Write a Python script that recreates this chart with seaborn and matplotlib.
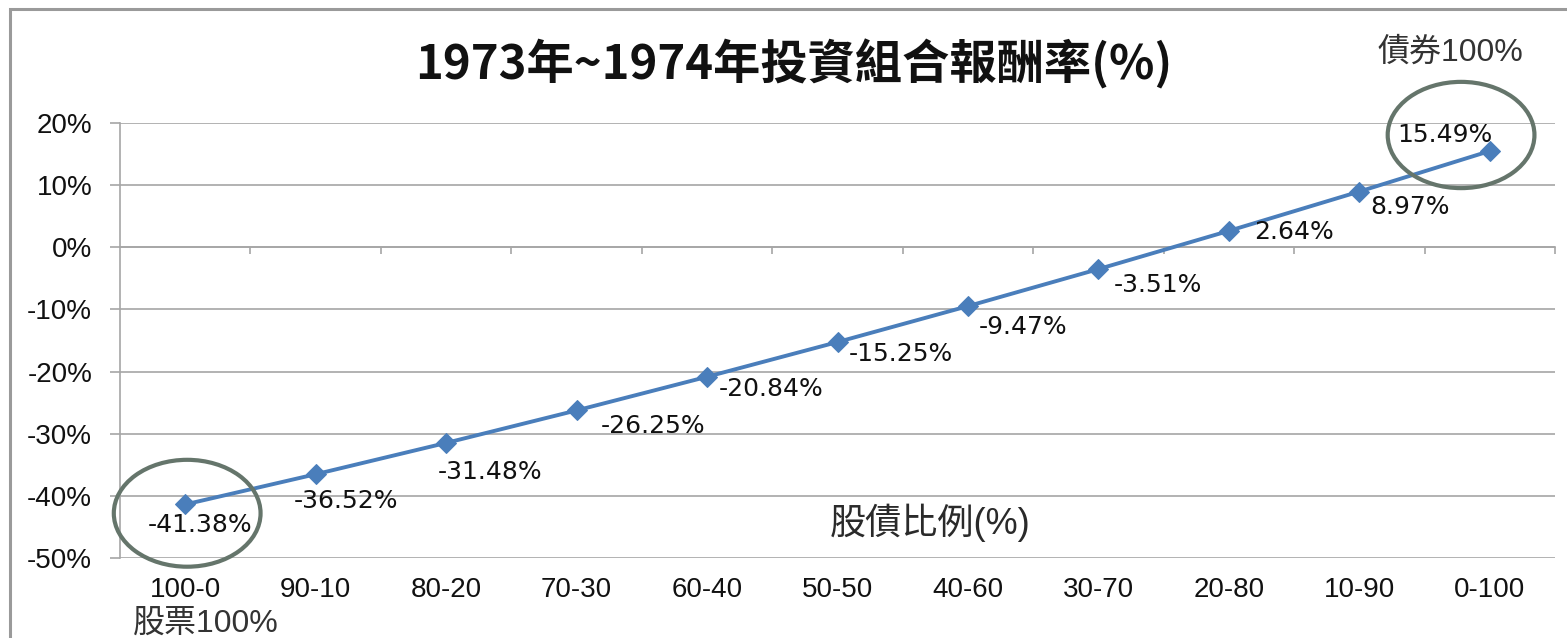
import numpy as np
import pandas as pd
import matplotlib
matplotlib.use('Agg')
import matplotlib.pyplot as plt
from matplotlib.patches import Ellipse, Rectangle
import seaborn as sns

# stock-bond mix and 1973-74 portfolio return (%)
mix = ['100-0', '90-10', '80-20', '70-30', '60-40', '50-50',
       '40-60', '30-70', '20-80', '10-90', '0-100']
returns = [-41.38, -36.52, -31.48, -26.25, -20.84, -15.25,
           -9.47, -3.51, 2.64, 8.97, 15.49]
yticks = [-50, -40, -30, -20, -10, 0, 10, 20]

# label offsets in pixels (left edge, vertical centre) relative to marker
lab_dx = [-37, -22, -8, 24, 12, 11, 11, 15, 25, 11, -93]
lab_dy = [-21, -27, -29, -16, -12, -12, -21, -16, -1, -15, 16]

df = pd.DataFrame({'mix': mix, 'ret': returns})

sns.set_theme(style='white')
plt.rcParams['font.family'] = ['Liberation Sans', 'Noto Sans CJK TC']

W, H = 1567, 638
fig = plt.figure(figsize=(W / 100, H / 100), dpi=100)
ax = fig.add_axes([120 / W, 1 - 558 / H, (1555 - 120) / W, (558 - 123) / H])

grid = '#A6A6A6'
blue = '#4A7EBB'

sns.lineplot(data=df, x='mix', y='ret', sort=False, ax=ax, color=blue,
             linewidth=2.8, marker='D', markersize=10.5,
             markeredgecolor=blue, zorder=5)

ax.set_xlim(-0.5, len(mix) - 0.5)
ax.set_ylim(-50, 20)
ax.set_yticks(yticks)
ax.set_yticklabels([f'{v}%' for v in yticks], fontsize=20, color='#111111')
ax.set_xticks(range(len(mix)))
ax.set_xticklabels(mix, fontsize=20, color='#111111')
ax.tick_params(axis='x', length=0, pad=14)
ax.tick_params(axis='y', length=7, width=1.2, color=grid, pad=13,
               direction='out', left=True)
ax.yaxis.grid(True, color=grid, linewidth=1.2)
ax.set_axisbelow(True)
ax.set_xlabel('')
ax.set_ylabel('')
for s in ['top', 'right', 'bottom']:
    ax.spines[s].set_visible(False)
ax.spines['left'].set_color(grid)
ax.spines['left'].set_linewidth(1.2)

# category axis crossing at 0%
sec = ax.secondary_xaxis(50 / 70)
sec.set_alignment('bottom')
sec.set_xticks(np.arange(0.5, len(mix), 1))
sec.tick_params(length=5, width=1.2, color=grid, labelbottom=False,
                direction='out')
sec.spines['bottom'].set_color(grid)
sec.spines['bottom'].set_linewidth(1.2)

for i, v in enumerate(returns):
    ax.annotate(f'{v:.2f}%', (i, v), xytext=(lab_dx[i], lab_dy[i]),
                textcoords='offset pixels', ha='left', va='center',
                fontsize=18, family=['DejaVu Sans'], color='#111111',
                zorder=6)

ring = '#65756B'
ax.add_patch(Ellipse((0.015, -42.8), 1.125, 17.2, fill=False,
                     edgecolor=ring, linewidth=3, clip_on=False, zorder=7))
ax.add_patch(Ellipse((9.78, 18.07), 1.125, 17.1, fill=False,
                     edgecolor=ring, linewidth=3, clip_on=False, zorder=7))

fig.text(794 / W, 1 - 64 / H, '1973年~1974年投資組合報酬率(%)', ha='center',
         va='center', fontsize=34, fontweight='bold', color='#111111',
         family=['Noto Sans CJK TC'])
fig.text(930 / W, 1 - 523 / H, '股債比例(%)', ha='center', va='center',
         fontsize=26, color='#2A2A2A',
         family=['Liberation Sans', 'Noto Sans CJK TC'])
fig.text(1450 / W, 1 - 52 / H, '債券100%', ha='center', va='center',
         fontsize=23, color='#333333')
fig.text(206 / W, 1 - 624 / H, '股票100%', ha='center', va='center',
         fontsize=23, color='#333333')

# chart area border (cropped at right and bottom)
fig.patches.append(Rectangle((10 / W, -0.2), 1.2, 1.2 - 9 / H,
                             transform=fig.transFigure, fill=False,
                             edgecolor='#9A9A9A', linewidth=2.2))

fig.savefig('out.png', dpi=100)
